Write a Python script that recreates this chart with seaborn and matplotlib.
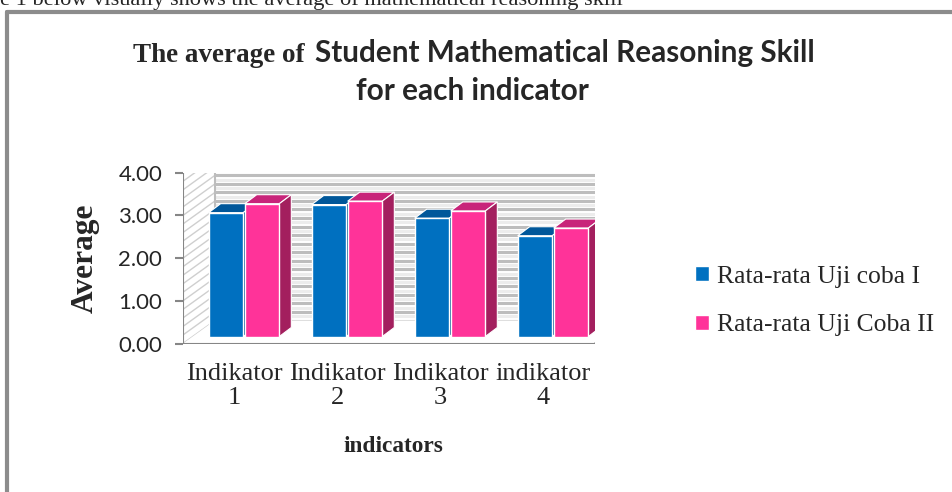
import pandas as pd
import matplotlib.pyplot as plt
import seaborn as sns
from matplotlib import transforms
from matplotlib.patches import Polygon
from matplotlib.lines import Line2D

# data
indicators = ["Indikator\n1", "Indikator\n2", "Indikator\n3", "indikator\n4"]
series_names = ["Rata-rata Uji coba I", "Rata-rata Uji Coba II"]
uji_coba_1 = [2.90, 3.09, 2.77, 2.36]
uji_coba_2 = [3.11, 3.17, 2.94, 2.54]
y_ticks = [0, 1, 2, 3, 4]

df = pd.DataFrame({
    "indicator": indicators * 2,
    "series": [series_names[0]] * 4 + [series_names[1]] * 4,
    "value": uji_coba_1 + uji_coba_2,
})

W, H, DPI = 952, 492, 100
sns.set_style("white")
fig = plt.figure(figsize=(W / DPI, H / DPI), dpi=DPI)
renderer = fig.canvas.get_renderer()

SERIF = "Liberation Serif"
SANS = "Lato"


def fit_size(s, target, **kw):
    # font size that makes the text about `target` pixels wide
    t = fig.text(0, 0, s, fontsize=10, **kw)
    w = t.get_window_extent(renderer).width
    t.remove()
    return 10 * target / w


# front plane of the 3d box (pixels from the top left)
x0, x1, ytop, ybot = 183, 595, 172.7, 343.5
ax = fig.add_axes([x0 / W, 1 - ybot / H, (x1 - x0) / W, (ybot - ytop) / H])
ax.set_xlim(-0.5, 3.5)
ax.set_ylim(0, 4)
ax.patch.set_alpha(0)
for s in ax.spines.values():
    s.set_visible(False)


def shift(dx, dy):
    # dx, dy in pixels, dy positive = up on screen
    return ax.transData + transforms.ScaledTranslation(dx / DPI, dy / DPI, fig.dpi_scale_trans)


wall = shift(32, 23)
grid_col = "#bdbdbd"
ident = transforms.IdentityTransform()

# back wall with stripes
ax.add_patch(Polygon([(-0.5, 0), (3.5, 0), (3.5, 4), (-0.5, 4)], closed=True,
                     facecolor="white", edgecolor="none", transform=wall, zorder=0))
for i in range(21):
    yv = i * 0.2
    ax.plot([-0.5, 3.5], [yv, yv], color=grid_col, lw=2.2, transform=wall, zorder=1,
            solid_capstyle="butt")
    if i < 20:
        ax.plot([-0.5, 3.5], [yv + 0.1, yv + 0.1], color="#ececec", lw=2.2,
                transform=wall, zorder=1, solid_capstyle="butt")

# left side wall: diagonal hatch from front axis to back wall
disp = ax.transData
for i in range(21):
    yv = i * 0.2
    p0 = disp.transform((-0.5, yv))
    p1 = wall.transform((-0.5, yv))
    ax.add_line(Line2D([p0[0], p1[0]], [p0[1], p1[1]], color="#cfcfcf", lw=1,
                       transform=ident, zorder=1))
pa, pb = wall.transform((-0.5, 0)), wall.transform((-0.5, 4))
ax.add_line(Line2D([pa[0], pb[0]], [pa[1], pb[1]], color=grid_col, lw=1.5,
                   transform=ident, zorder=1))

# floor
f0, f1 = disp.transform((3.5, 0)), wall.transform((3.5, 0))
ax.add_patch(Polygon([disp.transform((-0.5, 0)), f0, f1, wall.transform((-0.5, 0))],
                     closed=True, facecolor="white", edgecolor="none",
                     transform=ident, zorder=1.5))
ax.add_line(Line2D([f0[0], f1[0]], [f0[1], f1[1]], color="#8c8c8c", lw=1.5,
                   transform=ident, zorder=2))

# bars
palette = ["#0070c0", "#ff3399"]
tops = ["#00579a", "#c8247a"]
sides = ["#00528f", "#a31f5e"]
sns.barplot(data=df, x="indicator", y="value", hue="series", palette=palette,
            saturation=1, width=0.7, gap=0.04, edgecolor="white", linewidth=1, ax=ax,
            legend=False, zorder=3)
ax.set_xlim(-0.5, 3.5)
ax.set_ylim(0, 4)

bar_shift = (9.5, 7)
depth = (12, 9)
bar_tr = shift(*bar_shift)
for h, cont in enumerate(ax.containers):
    for cat, p in enumerate(cont):
        z = 3 + cat + h * 0.5
        p.set_transform(bar_tr)
        p.set_zorder(z + 0.2)
        xl, xr = p.get_x(), p.get_x() + p.get_width()
        yb, yt = p.get_y(), p.get_y() + p.get_height()
        a = bar_tr.transform((xl, yt)); b = bar_tr.transform((xr, yt)); c = bar_tr.transform((xr, yb))
        dx, dy = depth
        top = Polygon([a, b, (b[0] + dx, b[1] + dy), (a[0] + dx, a[1] + dy)], closed=True,
                      facecolor=tops[h], edgecolor="white", lw=0.8, transform=ident, zorder=z)
        side = Polygon([b, c, (c[0] + dx, c[1] + dy), (b[0] + dx, b[1] + dy)], closed=True,
                       facecolor=sides[h], edgecolor="white", lw=0.8, transform=ident, zorder=z)
        ax.add_patch(top)
        ax.add_patch(side)

# axes lines and ticks
axis_col = "#868686"
ax.axvline(-0.5, color=axis_col, lw=1.5, zorder=2)
ax.axhline(0, color=axis_col, lw=1.5, zorder=2)
ax.set_yticks(y_ticks)
ytl = [f"{v:.2f}" for v in y_ticks]
ax.set_yticklabels(ytl, fontsize=fit_size("4.00", 44, family=SANS), color="#262626",
                   family=SANS)
ax.set_xticks(range(4))
ax.set_xticklabels(indicators, fontsize=fit_size("Indikator", 97, family=SERIF),
                   family=SERIF, linespacing=1.15)
ax.set_xticks([-0.5, 0.5, 1.5, 2.5, 3.5], minor=True)
ax.tick_params(axis="x", which="major", length=0, pad=14)
ax.tick_params(axis="x", which="minor", length=7, width=1.5, color=axis_col, direction="out")
ax.tick_params(axis="y", length=6, width=1.5, color=axis_col, direction="out", pad=9, left=True)

ax.set_xlabel("indicators", fontsize=fit_size("indicators", 100, family=SERIF, weight="bold"),
              family=SERIF, weight="bold", va="center")
ax.xaxis.set_label_coords((393 - x0) / (x1 - x0), (ybot - 447) / (ybot - ytop))
ax.set_ylabel("Average", fontsize=fit_size("Average", 110, family=SERIF, weight="bold"),
              family=SERIF, weight="bold", va="center")
ax.yaxis.set_label_coords((85 - x0) / (x1 - x0), (ybot - 258) / (ybot - ytop))

# legend
handles = [plt.Rectangle((0, 0), 1, 1, facecolor=c) for c in palette]
fig.legend(handles, series_names, loc="center left", bbox_to_anchor=(672 / W, 1 - 301 / H),
           frameon=False,
           prop={"family": SERIF, "size": fit_size(series_names[1], 218, family=SERIF)},
           handlelength=0.55, handleheight=0.55, handletextpad=0.3, labelspacing=1.05)

# title: serif start, sans rest
t1 = fig.text(133 / W, 1 - 62 / H, "The average of", fontsize=19.5,
              weight="bold", family=SERIF, va="baseline", ha="left")
serif_end = t1.get_window_extent(renderer).x1
sans_w = 815 - serif_end - 9
title_size = fit_size("Student Mathematical Reasoning Skill", sans_w, family=SANS, weight="bold")
fig.text(815 / W, 1 - 62 / H, "Student Mathematical Reasoning Skill", fontsize=title_size,
         weight="bold", family=SANS, va="baseline", ha="right")
fig.text(472 / W, 1 - 100 / H, "for each indicator", fontsize=title_size,
         weight="bold", family=SANS, va="baseline", ha="center")

# frame of the chart area and cut off sentence above it
fig.add_artist(Line2D([7 / W, 7 / W], [0, 1 - 12 / H], color="#8c8c8c", lw=3,
                      transform=fig.transFigure))
fig.add_artist(Line2D([7 / W, 1], [1 - 12 / H, 1 - 12 / H], color="#8c8c8c", lw=3,
                      transform=fig.transFigure))
top_line = "e 1 below visually shows the average of mathematical reasoning skill"
fig.text(0, 1 - 5 / H, top_line,
         fontsize=fit_size(top_line, 620, family=SERIF),
         family=SERIF, va="baseline", ha="left")

fig.savefig("out.png", dpi=DPI)
